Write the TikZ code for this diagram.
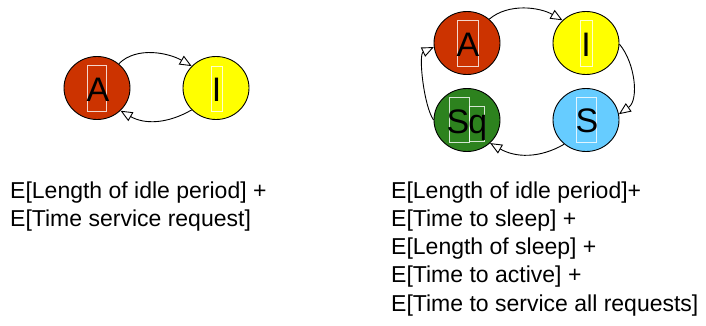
\documentclass[tikz,border=0pt]{standalone}
\usepackage{fontspec}
\setmainfont{Liberation Sans}
\usetikzlibrary{shapes.geometric,arrows.meta}
\definecolor{ared}{RGB}{204,51,0}
\definecolor{ayel}{RGB}{255,255,0}
\definecolor{agreen}{RGB}{45,130,30}
\definecolor{ablue}{RGB}{102,204,255}
\tikzset{
  st/.style={ellipse,draw=black,line width=0.9pt,minimum width=66pt,minimum height=63pt,inner sep=0pt},
  lbl/.style={inner sep=0pt,font=\fontsize{34}{34}\selectfont},
  wbox/.style={draw=white,line width=0.8pt,opacity=0.8},
  conn/.style={draw=black,line width=0.9pt,-{Triangle[fill=white,length=12pt,width=10pt,line width=0.9pt]}},
  txt/.style={anchor=base west,inner sep=0pt,font=\fontsize{23}{28}\selectfont}
}
\begin{document}
\begin{tikzpicture}[x=1pt,y=-1pt]
\useasboundingbox[fill=white] (0,0) rectangle (706,326);
% left diagram
\node[st,fill=ared] (A1) at (97,88) {};
\node[st,fill=ayel] (I1) at (216,88) {};
\draw[wbox] (87,65) rectangle (106,111);
\draw[wbox] (211,66) rectangle (222,111);
\node[lbl] (tA1) at (98,90) {A};
\node[lbl] (tI1) at (216.5,90) {I};
\draw[conn] (A1.48) to[out=45,in=150,looseness=0.9] (I1.138);
\draw[conn] (I1.222) to[out=210,in=-30] (A1.-44);
% right diagram
\node[st,fill=ared] (A2) at (467,43) {};
\node[st,fill=ayel] (I2) at (586,43) {};
\node[st,fill=agreen] (Q2) at (467,120) {};
\node[st,fill=ablue] (S2) at (586,120) {};
\draw[wbox] (457,20) rectangle (478,66);
\draw[wbox] (580,20) rectangle (592,66);
\draw[wbox] (576,97) rectangle (596,142);
\draw[wbox] (449,97) rectangle (469,142);
\draw[wbox] (469,106) rectangle (484,141);
\node[lbl] (tA2) at (468,45) {A};
\node[lbl] (tI2) at (586,45) {I};
\node[lbl] (tS2) at (587,121) {S};
\node[lbl,anchor=base] (tQ2) at (467,133) {S\kern-1pt q};
\draw[conn] (A2.47) to[out=40,in=150,looseness=0.9] (I2.136);
\draw[conn] (I2.-2) to[out=-50,in=35,looseness=0.9] (S2.10);
\draw[conn] (S2.228) to[out=210,in=-30] (Q2.-45);
\draw[conn] (Q2.180) to[out=125,in=205,looseness=0.6] (A2.187);
% formulas
\node[txt] (l1) at (10,198) {E[Length of idle period] +};
\node[txt] (l2) at (10,226.3) {E[Time service request]};
\node[txt] (r1) at (391,198) {E[Length of idle period]+};
\node[txt] (r2) at (391,226.3) {E[Time to sleep] +};
\node[txt] (r3) at (391,254.6) {E[Length of sleep] +};
\node[txt] (r4) at (391,282.9) {E[Time to active] +};
\node[txt] (r5) at (391,311.2) {E[Time to service all requests]};
\end{tikzpicture}
\end{document}
